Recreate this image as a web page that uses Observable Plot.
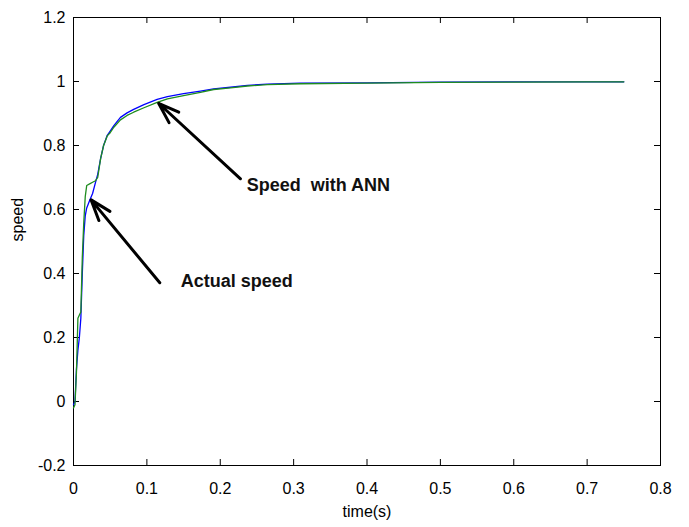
<!DOCTYPE html>
<html>
<head>
<meta charset="utf-8">
<script src="https://cdn.jsdelivr.net/npm/d3@7"></script>
<script src="https://cdn.jsdelivr.net/npm/@observablehq/plot@0.6"></script>
<style>
  html, body { margin: 0; padding: 0; background: #fff; }
  #chart svg { display: block; }
</style>
</head>
<body>
<div id="chart"></div>
<script>
// time samples (s)
const time = [0, 0.002, 0.004, 0.006, 0.008, 0.010, 0.012, 0.014, 0.016, 0.018,
  0.022, 0.026, 0.030, 0.033, 0.037, 0.041, 0.046, 0.050, 0.055, 0.064,
  0.073, 0.082, 0.096, 0.114, 0.128, 0.150, 0.173, 0.191, 0.214, 0.237,
  0.264, 0.309, 0.40, 0.50, 0.60, 0.70, 0.75];
// blue: actual speed
const actualSpeed = [-0.01, 0.0, 0.10, 0.16, 0.20, 0.26, 0.40, 0.52, 0.58, 0.605,
  0.628, 0.65, 0.685, 0.71, 0.76, 0.80, 0.832, 0.845, 0.862, 0.888,
  0.902, 0.913, 0.928, 0.944, 0.953, 0.962, 0.970, 0.977, 0.982, 0.988,
  0.992, 0.995, 0.996, 0.998, 0.999, 0.999, 0.999];
// green: speed with ANN
const annSpeed = [-0.02, -0.01, 0.09, 0.26, 0.27, 0.28, 0.45, 0.56, 0.64, 0.675,
  0.68, 0.685, 0.69, 0.70, 0.76, 0.80, 0.83, 0.84, 0.857, 0.88,
  0.894, 0.904, 0.918, 0.935, 0.946, 0.956, 0.966, 0.975, 0.98, 0.986,
  0.99, 0.993, 0.995, 0.997, 0.998, 0.999, 0.999];

const xTicks = [0, 0.1, 0.2, 0.3, 0.4, 0.5, 0.6, 0.7, 0.8];
const yTicks = [-0.2, 0, 0.2, 0.4, 0.6, 0.8, 1.0, 1.2];

// annotations
const annLabels = ["Actual speed", "Speed\u00a0 with ANN"];
const annTextX = [0.146, 0.236];
const annTextY = [0.376, 0.677];
const arrowX1 = [0.1176, 0.2276];
const arrowY1 = [0.371, 0.696];
const arrowX2 = [0.024, 0.116];
const arrowY2 = [0.63, 0.932];

const actualRows = time.map((t, i) => ({t, v: actualSpeed[i]}));
const annRows = time.map((t, i) => ({t, v: annSpeed[i]}));
const annots = annLabels.map((label, i) => ({
  label, tx: annTextX[i], ty: annTextY[i],
  x1: arrowX1[i], y1: arrowY1[i], x2: arrowX2[i], y2: arrowY2[i]
}));

const W = 689, H = 527;
const mL = 73, mR = 29, mT = 17, mB = 62;
const plotW = W - mL - mR, plotH = H - mT - mB;
const tickLen = 6;
const fmt = d => String(+d.toFixed(1));

const chart = Plot.plot({
  width: W,
  height: H,
  marginLeft: mL,
  marginRight: mR,
  marginTop: mT,
  marginBottom: mB,
  style: {fontFamily: "'Liberation Sans', Arial, sans-serif", fontSize: "16px", color: "#000", background: "#fff"},
  x: {domain: [0, 0.8], ticks: xTicks, tickFormat: fmt, tickSize: 0, tickPadding: 17, label: null},
  y: {domain: [-0.2, 1.2], ticks: yTicks, tickFormat: fmt, tickSize: 0, tickPadding: 8, label: null},
  marks: [
    Plot.frame({stroke: "#000", strokeWidth: 1}),
    // inward ticks on all four sides
    Plot.tickX(xTicks, {x: d => d, insetTop: plotH - tickLen, stroke: "#000"}),
    Plot.tickX(xTicks, {x: d => d, insetBottom: plotH - tickLen, stroke: "#000"}),
    Plot.tickY(yTicks, {y: d => d, insetRight: plotW - tickLen, stroke: "#000"}),
    Plot.tickY(yTicks, {y: d => d, insetLeft: plotW - tickLen, stroke: "#000"}),
    Plot.line(actualRows, {x: "t", y: "v", stroke: "#0000ff", strokeWidth: 1.3}),
    Plot.line(annRows, {x: "t", y: "v", stroke: "#1e8c1e", strokeWidth: 1.3}),
    Plot.arrow(annots, {x1: "x1", y1: "y1", x2: "x2", y2: "y2", stroke: "#000",
      strokeWidth: 3, headLength: 11, headAngle: 38}),
    Plot.text(annots, {x: "tx", y: "ty", text: "label", textAnchor: "start",
      fontWeight: "bold", fontSize: 18, fill: "#111"}),
    Plot.text(["time(s)"], {frameAnchor: "bottom", dy: 51, fontSize: 16, fill: "#000"}),
    Plot.text(["speed"], {frameAnchor: "left", dx: -56, rotate: -90, fontSize: 16, fill: "#000"})
  ]
});
document.getElementById("chart").appendChild(chart);
</script>
</body>
</html>
